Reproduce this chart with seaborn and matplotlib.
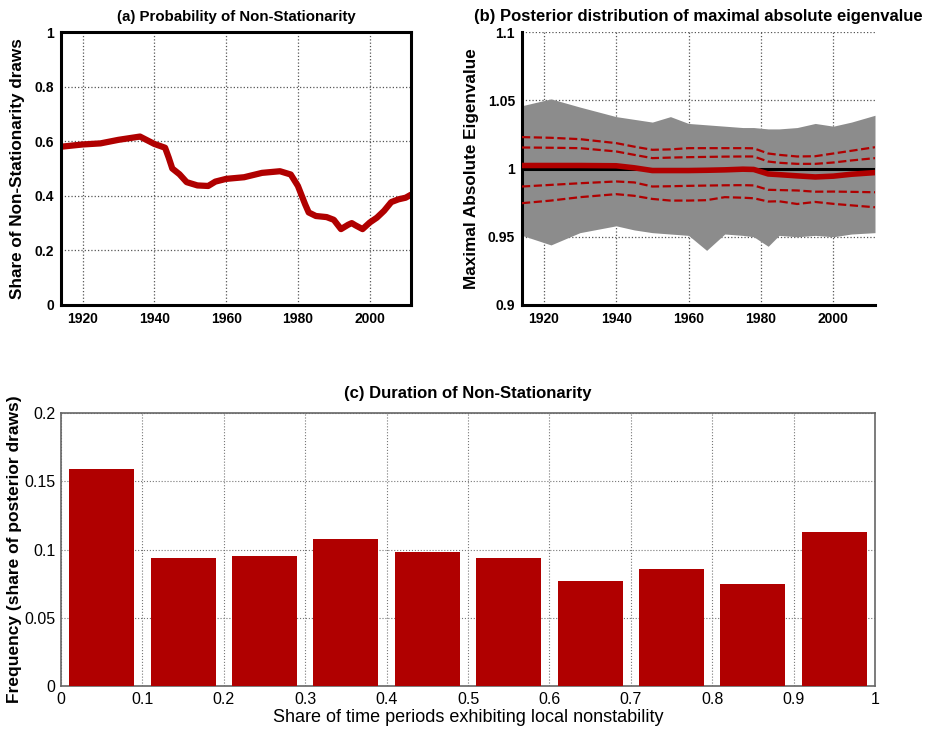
import numpy as np
import pandas as pd
import matplotlib
matplotlib.use("Agg")
import matplotlib.pyplot as plt
import seaborn as sns

sns.set_style("white")
plt.rcParams['font.family'] = ['Liberation Sans', 'DejaVu Sans']
plt.rcParams.update({'text.color': 'black', 'axes.labelcolor': 'black',
                     'xtick.color': 'black', 'ytick.color': 'black'})

# ---------------- data ----------------
# (a) probability of non-stationarity
years_a = [1914.2, 1920, 1925, 1930, 1936, 1940, 1943, 1944, 1945, 1947, 1949, 1952, 1955,
           1957, 1960, 1965, 1970, 1975, 1978, 1980, 1982, 1983, 1985, 1988, 1990, 1992,
           1994, 1995, 1996, 1998, 2000, 2002, 2004, 2006, 2008, 2010, 2011.5]
prob_a = [0.580, 0.588, 0.592, 0.605, 0.617, 0.590, 0.576, 0.540, 0.500, 0.479, 0.450, 0.438,
          0.436, 0.452, 0.462, 0.468, 0.484, 0.490, 0.478, 0.436, 0.369, 0.339, 0.326, 0.322,
          0.312, 0.278, 0.294, 0.300, 0.292, 0.278, 0.302, 0.320, 0.345, 0.377, 0.387, 0.393,
          0.404]

# (b) posterior envelope and quantiles of maximal absolute eigenvalue
years_b = [1914, 1922, 1930, 1940, 1945, 1950, 1955, 1960, 1965, 1970, 1975, 1978, 1982,
           1985, 1990, 1995, 2000, 2005, 2011.5]
env_upper = [1.046, 1.051, 1.045, 1.038, 1.036, 1.034, 1.038, 1.033, 1.032, 1.031, 1.030,
             1.030, 1.029, 1.029, 1.030, 1.033, 1.031, 1.034, 1.039]
env_lower = [0.951, 0.944, 0.953, 0.958, 0.955, 0.953, 0.952, 0.951, 0.940, 0.952, 0.951,
             0.950, 0.943, 0.951, 0.950, 0.951, 0.950, 0.952, 0.953]
q_hi2 = [1.0230, 1.0225, 1.0215, 1.0186, 1.0160, 1.0137, 1.0140, 1.0149, 1.0149, 1.0149,
         1.0149, 1.0148, 1.0110, 1.0100, 1.0088, 1.0090, 1.0110, 1.0130, 1.0156]
q_hi1 = [1.0154, 1.0152, 1.0149, 1.0125, 1.0100, 1.0076, 1.0080, 1.0083, 1.0085, 1.0087,
         1.0088, 1.0088, 1.0051, 1.0042, 1.0034, 1.0034, 1.0044, 1.0059, 1.0076]
median_b = [1.0022, 1.0022, 1.0022, 1.0020, 1.0005, 0.9985, 0.9985, 0.9985, 0.9987, 0.9990,
            0.9995, 0.9993, 0.9960, 0.9955, 0.9946, 0.9938, 0.9944, 0.9958, 0.9970]
q_lo1 = [0.9868, 0.9880, 0.9892, 0.9905, 0.9898, 0.9868, 0.9870, 0.9873, 0.9875, 0.9877,
         0.9878, 0.9876, 0.9844, 0.9842, 0.9839, 0.9830, 0.9831, 0.9829, 0.9826]
q_lo2 = [0.9746, 0.9765, 0.9790, 0.9812, 0.9800, 0.9777, 0.9765, 0.9765, 0.9768, 0.9790,
         0.9786, 0.9782, 0.9758, 0.9760, 0.9740, 0.9755, 0.9741, 0.9730, 0.9716]

# (c) duration histogram
bin_centers = [0.05, 0.15, 0.25, 0.35, 0.45, 0.55, 0.65, 0.75, 0.85, 0.95]
freq_c = [0.159, 0.094, 0.095, 0.108, 0.098, 0.094, 0.077, 0.086, 0.075, 0.113]

RED = '#b00000'

fig = plt.figure(figsize=(9.27, 7.36), dpi=100)
W, H = 927, 736
def rect(l, t, r, b):
    return [l / W, 1 - b / H, (r - l) / W, (b - t) / H]

ax_a = fig.add_axes(rect(61, 32, 411, 305))
ax_b = fig.add_axes(rect(522, 32, 875, 305))
ax_c = fig.add_axes(rect(61, 413, 875, 686))

bold = dict(fontweight='bold')

# ---------------- (a) ----------------
df_a = pd.DataFrame({'year': years_a, 'p': prob_a})
sns.lineplot(data=df_a, x='year', y='p', ax=ax_a, color=RED, linewidth=4.5)
ax_a.set_xlim(1914, 2011.5)
ax_a.set_ylim(0, 1)
ax_a.set_xticks([1920, 1940, 1960, 1980, 2000])
ax_a.set_yticks([0, 0.2, 0.4, 0.6, 0.8, 1])
ax_a.set_yticklabels(['0', '0.2', '0.4', '0.6', '0.8', '1'])
ax_a.set_xlabel('')
ax_a.set_ylabel('Share of Non-Stationarity draws', fontsize=12.3, **bold, labelpad=7)
ax_a.set_title('(a) Probability of Non-Stationarity', fontsize=10.8, **bold, pad=8)
ax_a.grid(True, linestyle=':', color='#555555', linewidth=0.9)
for s in ax_a.spines.values():
    s.set_linewidth(2.2)
    s.set_color('black')

# ---------------- (b) ----------------
ax_b.fill_between(years_b, env_lower, env_upper, color='#8c8c8c', linewidth=0, zorder=2)
ax_b.axhline(1.0, color='black', linewidth=2.2, zorder=3)
for q in (q_hi2, q_hi1, q_lo1, q_lo2):
    sns.lineplot(x=years_b, y=q, ax=ax_b, color=RED, linewidth=1.6, linestyle='--', zorder=4)
sns.lineplot(x=years_b, y=median_b, ax=ax_b, color=RED, linewidth=4, zorder=5)
ax_b.set_xlim(1914, 2011.5)
ax_b.set_ylim(0.9, 1.1)
ax_b.set_xticks([1920, 1940, 1960, 1980, 2000])
ax_b.set_yticks([0.9, 0.95, 1.0, 1.05, 1.1])
ax_b.set_yticklabels(['0.9', '0.95', '1', '1.05', '1.1'])
ax_b.set_ylabel('Maximal Absolute Eigenvalue', fontsize=12.3, **bold, labelpad=6)
ax_b.set_title('(b) Posterior distribution of maximal absolute eigenvalue', fontsize=12,
               **bold, pad=8)
ax_b.grid(True, linestyle=':', color='#555555', linewidth=0.9, zorder=1)
ax_b.set_axisbelow(True)
ax_b.spines['top'].set_visible(False)
ax_b.spines['right'].set_visible(False)
for s in ('left', 'bottom'):
    ax_b.spines[s].set_linewidth(2.2)
    ax_b.spines[s].set_color('black')

for ax in (ax_a, ax_b):
    ax.tick_params(direction='in', length=4, width=1.5, labelsize=10, pad=5)
    for lab in ax.get_xticklabels() + ax.get_yticklabels():
        lab.set_fontweight('bold')

# ---------------- (c) ----------------
sns.barplot(x=bin_centers, y=freq_c, ax=ax_c, native_scale=True, color=RED,
            saturation=1, width=0.8, edgecolor='none', zorder=3)
ax_c.set_xlim(0, 1)
ax_c.set_ylim(0, 0.2)
ax_c.set_xticks(np.round(np.arange(0, 1.01, 0.1), 1))
ax_c.set_xticklabels(['0', '0.1', '0.2', '0.3', '0.4', '0.5', '0.6', '0.7', '0.8', '0.9', '1'])
ax_c.set_yticks([0, 0.05, 0.1, 0.15, 0.2])
ax_c.set_yticklabels(['0', '0.05', '0.1', '0.15', '0.2'])
ax_c.grid(True, linestyle=':', color='#777777', linewidth=0.8, zorder=0)
ax_c.set_axisbelow(True)
ax_c.tick_params(direction='in', length=4, width=0.8, labelsize=11.5, color='#555555', pad=4)
ax_c.set_xlabel('Share of time periods exhibiting local nonstability', fontsize=13, labelpad=2)
ax_c.set_ylabel('Frequency (share of posterior draws)', fontsize=12.5, **bold, labelpad=2)
ax_c.set_title('(c) Duration of Non-Stationarity', fontsize=12, **bold, pad=11)
for s in ax_c.spines.values():
    s.set_linewidth(1.2)
    s.set_color('#666666')

fig.savefig('out.png', dpi=100)
